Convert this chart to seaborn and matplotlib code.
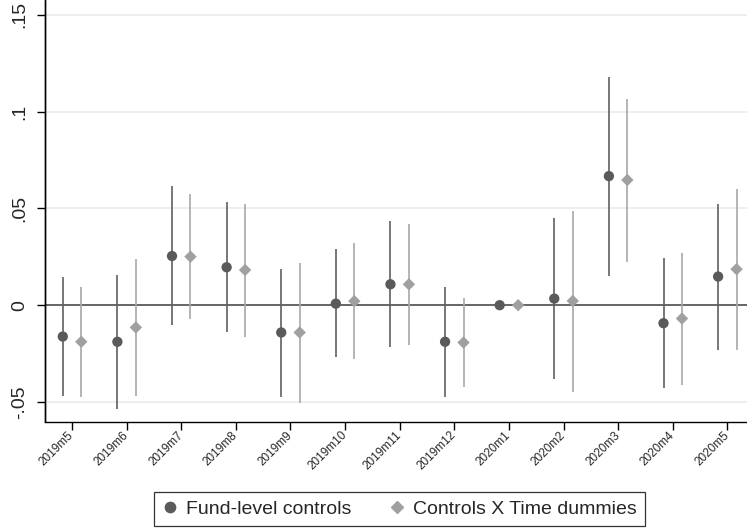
import numpy as np
import pandas as pd
import matplotlib
matplotlib.use("Agg")
import matplotlib.pyplot as plt
from matplotlib.lines import Line2D
import seaborn as sns

months = ["2019m5", "2019m6", "2019m7", "2019m8", "2019m9", "2019m10", "2019m11",
          "2019m12", "2020m1", "2020m2", "2020m3", "2020m4", "2020m5"]

fund_coef = [-0.0162, -0.0189, 0.0254, 0.0196, -0.0141, 0.0008, 0.0108,
             -0.0189, 0.0, 0.0034, 0.0667, -0.0093, 0.0148]
fund_lo = [-0.0468, -0.0537, -0.0102, -0.0138, -0.0472, -0.0268, -0.0214,
           -0.0475, 0.0, -0.0382, 0.0151, -0.0430, -0.0231]
fund_hi = [0.0144, 0.0156, 0.0616, 0.0533, 0.0189, 0.0289, 0.0433,
           0.0096, 0.0, 0.0450, 0.1180, 0.0244, 0.0523]

time_coef = [-0.0189, -0.0115, 0.0251, 0.0182, -0.0141, 0.0021, 0.0108,
             -0.0193, 0.0, 0.0022, 0.0647, -0.0069, 0.0186]
time_lo = [-0.0472, -0.0468, -0.0072, -0.0162, -0.0506, -0.0279, -0.0206,
           -0.0425, 0.0, -0.0447, 0.0223, -0.0410, -0.0231]
time_hi = [0.0096, 0.0240, 0.0574, 0.0523, 0.0220, 0.0320, 0.0419,
           0.0039, 0.0, 0.0488, 0.1066, 0.0271, 0.0602]

series_names = ["Fund-level controls", "Controls X Time dummies"]
yticks = [-0.05, 0, 0.05, 0.1, 0.15]
ytick_labels = ["-.05", "0", ".05", ".1", ".15"]

sns.set_style("white", {"xtick.bottom": True, "ytick.left": True})
plt.rcParams["font.family"] = ["Liberation Sans", "DejaVu Sans"]

pos = np.arange(len(months))
dodge = 0.169

df = pd.concat([
    pd.DataFrame({"x": pos - dodge, "coef": fund_coef, "lo": fund_lo, "hi": fund_hi,
                  "model": series_names[0]}),
    pd.DataFrame({"x": pos + dodge, "coef": time_coef, "lo": time_lo, "hi": time_hi,
                  "model": series_names[1]}),
], ignore_index=True)

dark_pt, dark_ln = "#5a5a5a", "#606060"
light_pt, light_ln = "#a0a0a0", "#a8a8a8"

fig = plt.figure(figsize=(7.47, 5.32), dpi=100)
ax = fig.add_axes([44.5 / 747, 1 - 421.5 / 532, 1 - 44.5 / 747, 421.5 / 532])

for yt in yticks:
    if yt != 0:
        ax.axhline(yt, color="#eaeaea", lw=1.1, zorder=0)
ax.axhline(0, color="#3c3c3c", lw=1.1, zorder=1)

d1 = df[df["model"] == series_names[0]]
d2 = df[df["model"] == series_names[1]]
ax.vlines(d1["x"], d1["lo"], d1["hi"], color=dark_ln, lw=1.2, zorder=2)
ax.vlines(d2["x"], d2["lo"], d2["hi"], color=light_ln, lw=1.2, zorder=2)

sns.scatterplot(data=d1, x="x", y="coef", color=dark_pt, marker="o", s=55,
                edgecolor="none", ax=ax, zorder=3, legend=False)
sns.scatterplot(data=d2, x="x", y="coef", color=light_pt, marker="D", s=40,
                edgecolor="none", ax=ax, zorder=3, legend=False)

ax.set_xlim(-0.504, 12.36)
ax.set_ylim(-0.0601, 0.1577)
ax.set_xticks(pos)
ax.set_xticklabels(months, rotation=45, ha="right", va="center",
                   rotation_mode="anchor", fontsize=8.5)
ax.set_yticks(yticks)
ax.set_yticklabels(ytick_labels, rotation=90, va="center", fontsize=14)
ax.tick_params(axis="both", direction="out", length=5.5, width=1.0, color="black")
ax.tick_params(axis="x", bottom=True, pad=3)
ax.tick_params(axis="y", left=True, pad=6)
ax.set_xlabel("")
ax.set_ylabel("")
ax.spines["top"].set_visible(False)
ax.spines["right"].set_visible(False)
for side in ["left", "bottom"]:
    ax.spines[side].set_visible(True)
    ax.spines[side].set_color("black")
    ax.spines[side].set_linewidth(1.0)
# y axis line drawn explicitly on top as well
ax.axvline(ax.get_xlim()[0], color="black", lw=1.0, clip_on=False, zorder=6)

handles = [
    Line2D([], [], marker="o", ls="none", color=dark_pt, markersize=7.4),
    Line2D([], [], marker="D", ls="none", color=light_pt, markersize=6.2),
]
leg = fig.legend(handles, series_names, loc="center", ncol=2,
                 bbox_to_anchor=(399.5 / 747, 1 - 509 / 532), fontsize=14,
                 frameon=True, fancybox=False, edgecolor="black",
                 handlelength=0.8, handletextpad=0.45, columnspacing=1.9,
                 borderpad=0.4, borderaxespad=0)
leg.get_frame().set_linewidth(0.9)

fig.savefig("out.png", dpi=100)
